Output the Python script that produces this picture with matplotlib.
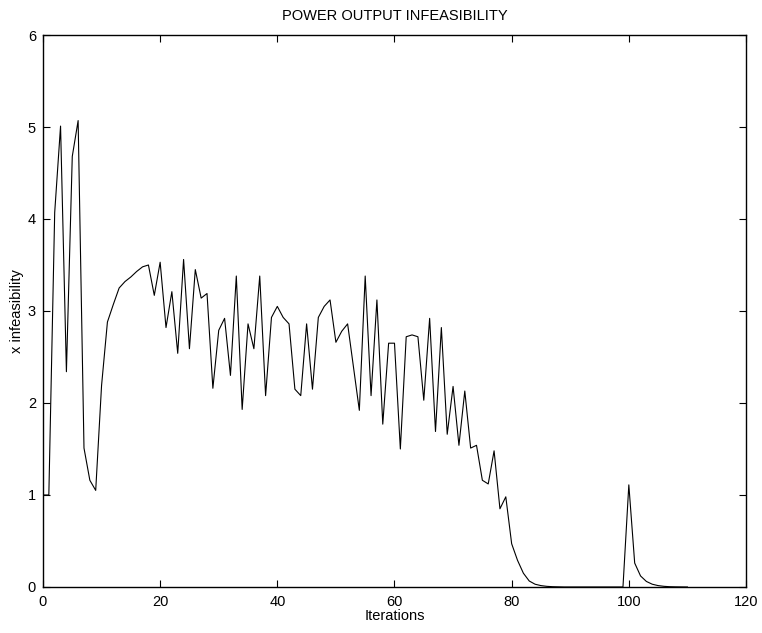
import matplotlib
matplotlib.use("Agg")
import matplotlib.pyplot as plt

# valeurs (une par iteration)
iterations = list(range(0, 111))
infaisabilite = [
    1.0, 1.0, 4.07, 5.01, 2.34, 4.68, 5.07, 1.51, 1.16, 1.05,      # 0-9
    2.19, 2.88, 3.07, 3.25, 3.32, 3.37, 3.43, 3.48, 3.50, 3.17,    # 10-19
    3.53, 2.82, 3.21, 2.54, 3.56, 2.59, 3.45, 3.14, 3.19, 2.16,    # 20-29
    2.79, 2.92, 2.30, 3.38, 1.93, 2.86, 2.59, 3.38, 2.08, 2.93,    # 30-39
    3.05, 2.93, 2.86, 2.15, 2.08, 2.86, 2.15, 2.93, 3.05, 3.12,    # 40-49
    2.66, 2.78, 2.86, 2.39, 1.92, 3.38, 2.08, 3.12, 1.77, 2.65,    # 50-59
    2.65, 1.50, 2.72, 2.74, 2.72, 2.03, 2.92, 1.69, 2.82, 1.66,    # 60-69
    2.18, 1.54, 2.13, 1.51, 1.54, 1.16, 1.12, 1.48, 0.85, 0.98,    # 70-79
    0.47, 0.29, 0.15, 0.065, 0.03, 0.015, 0.007, 0.003, 0.0015, 0.0,  # 80-89
    0.0, 0.0, 0.0, 0.0, 0.0, 0.0, 0.0, 0.0, 0.0, 0.0,              # 90-99
    1.11, 0.26, 0.12, 0.06, 0.03, 0.015, 0.007, 0.003, 0.0015, 0.0007,  # 100-109
    0.0,                                                           # 110
]

plt.rcParams['font.family'] = ['Liberation Sans', 'DejaVu Sans']
plt.rcParams['font.size'] = 10.5

fig = plt.figure(figsize=(7.62, 6.33), dpi=100)
ax = fig.add_axes([0.0564, 0.0727, 0.9226, 0.872])

ax.plot(iterations, infaisabilite, color='black', linewidth=0.8)

ax.set_xlim(0, 120)
ax.set_ylim(0, 6)
ax.set_xticks(range(0, 121, 20))
ax.set_yticks(range(0, 7))

# style matlab : graduations vers l'interieur sur les 4 cotes
ax.tick_params(direction='in', length=5, width=0.8, top=True, right=True,
               labelsize=10.5)
ax.tick_params(axis='x', pad=6)
ax.tick_params(axis='y', pad=5)
for s in ax.spines.values():
    s.set_linewidth(1.0)

ax.set_title("POWER OUTPUT INFEASIBILITY", fontsize=10.5, pad=11)
ax.set_xlabel("Iterations", fontsize=10.5, labelpad=0)
ax.set_ylabel("x infeasibility", fontsize=10.5, labelpad=3)

plt.savefig("out.png", dpi=100)
